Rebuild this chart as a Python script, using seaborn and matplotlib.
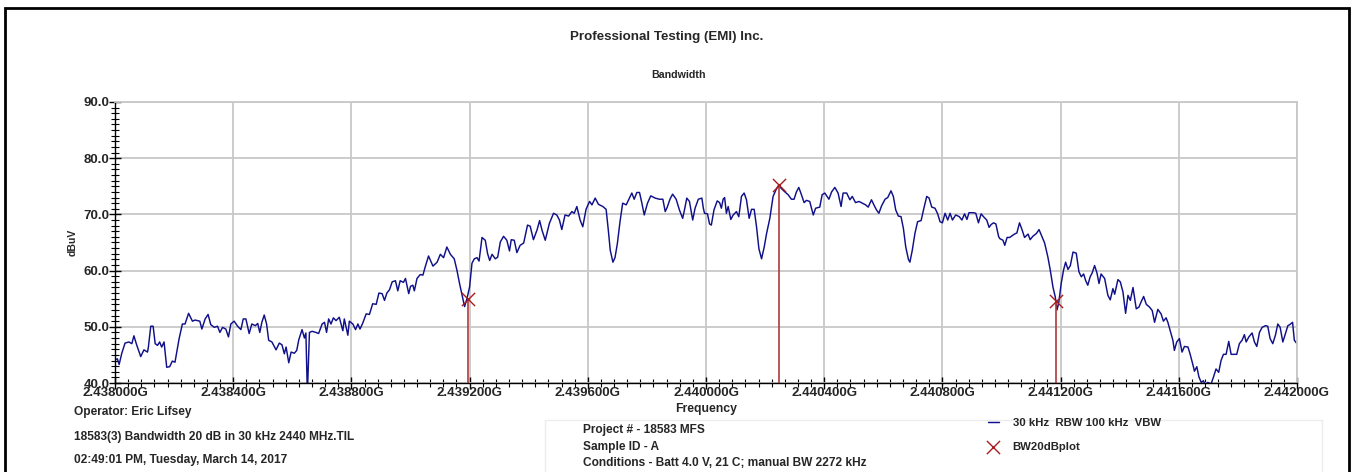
"""
Recreation of the EMI bandwidth plot (20 dB bandwidth, 30 kHz RBW).
"""

import matplotlib
matplotlib.use("Agg")
import matplotlib.pyplot as plt
from matplotlib.patches import Rectangle
from matplotlib.ticker import MultipleLocator, AutoMinorLocator, FuncFormatter
import seaborn as sns
import pandas as pd

# Trace, frequency in MHz, level in dBuV
freq_a = [2438.000, 2438.008, 2438.014, 2438.023, 2438.034, 2438.047, 2438.057, 2438.064, 2438.072, 2438.087,
          2438.098, 2438.110, 2438.113, 2438.121, 2438.129, 2438.136, 2438.144, 2438.151, 2438.158, 2438.166,
          2438.175, 2438.185, 2438.194, 2438.203, 2438.217, 2438.228, 2438.237, 2438.249, 2438.262, 2438.271,
          2438.287, 2438.294, 2438.305, 2438.315, 2438.324, 2438.336, 2438.347, 2438.355, 2438.364, 2438.375,
          2438.384, 2438.392, 2438.403, 2438.415, 2438.426, 2438.434, 2438.443, 2438.454, 2438.463, 2438.475,
          2438.483, 2438.490, 2438.497, 2438.505, 2438.513, 2438.520, 2438.531, 2438.545, 2438.556, 2438.565,
          2438.573, 2438.579, 2438.588, 2438.596, 2438.607, 2438.615, 2438.622, 2438.633, 2438.641, 2438.646,
          2438.651, 2438.658, 2438.667, 2438.680, 2438.689, 2438.701, 2438.709, 2438.716, 2438.723, 2438.731,
          2438.739, 2438.748, 2438.759, 2438.771, 2438.776, 2438.788, 2438.793, 2438.805, 2438.814, 2438.822,
          2438.829, 2438.838, 2438.850, 2438.861, 2438.872, 2438.884, 2438.893, 2438.904, 2438.912, 2438.920,
          2438.929, 2438.938, 2438.949, 2438.957, 2438.965, 2438.976, 2438.983, 2438.994]
level_a = [44.1, 44.3, 43.3, 45.3, 47.1, 47.3, 47.0, 48.4, 47.0, 44.7,
           45.9, 45.5, 46.4, 50.1, 50.1, 47.0, 46.7, 47.3, 46.4, 47.3,
           42.8, 42.9, 43.9, 43.7, 47.9, 50.5, 50.5, 52.4, 51.0, 51.2,
           51.0, 49.6, 51.4, 52.2, 50.4, 49.9, 50.1, 49.0, 49.9, 49.6,
           48.2, 50.5, 51.0, 50.1, 49.5, 51.4, 51.4, 48.8, 50.5, 50.2,
           50.6, 49.0, 50.8, 52.1, 50.5, 47.6, 47.3, 45.9, 47.1, 46.8,
           45.2, 46.4, 43.6, 45.5, 45.3, 45.8, 47.7, 49.5, 48.0, 48.9,
           38.0, 49.0, 49.2, 49.0, 48.8, 50.5, 50.8, 49.0, 51.4, 50.5,
           51.6, 51.1, 51.7, 49.3, 51.4, 48.5, 51.0, 50.5, 49.5, 50.5,
           49.6, 50.6, 52.3, 52.2, 54.1, 54.0, 56.0, 55.9, 54.7, 56.0,
           56.6, 58.0, 58.2, 56.4, 58.2, 57.9, 58.6, 55.9]

freq_b = [2439.000, 2439.008, 2439.013, 2439.022, 2439.033, 2439.042, 2439.050, 2439.061, 2439.076, 2439.090,
          2439.101, 2439.112, 2439.123, 2439.135, 2439.148, 2439.157, 2439.166, 2439.174, 2439.183, 2439.191,
          2439.200, 2439.208, 2439.216, 2439.225, 2439.232, 2439.242, 2439.253, 2439.261, 2439.268, 2439.276,
          2439.287, 2439.295, 2439.304, 2439.315, 2439.326, 2439.335, 2439.341, 2439.351, 2439.360, 2439.371,
          2439.383, 2439.396, 2439.405, 2439.416, 2439.428, 2439.437, 2439.445, 2439.456, 2439.470, 2439.484,
          2439.495, 2439.504, 2439.512, 2439.523, 2439.535, 2439.546, 2439.554, 2439.563, 2439.574, 2439.583,
          2439.594, 2439.606, 2439.614, 2439.625, 2439.636, 2439.651, 2439.662, 2439.670, 2439.676, 2439.685,
          2439.692, 2439.700, 2439.709, 2439.718, 2439.730, 2439.738, 2439.749, 2439.757, 2439.766, 2439.775,
          2439.783, 2439.791, 2439.802, 2439.813, 2439.828, 2439.842, 2439.854, 2439.862, 2439.869, 2439.878,
          2439.887, 2439.899, 2439.910, 2439.921, 2439.926, 2439.935, 2439.944, 2439.955, 2439.963, 2439.974,
          2439.986, 2439.991]
level_b = [57.2, 57.4, 56.4, 58.6, 59.3, 59.2, 60.7, 62.6, 60.8, 61.5,
           62.9, 62.3, 64.2, 62.9, 62.1, 60.1, 57.7, 55.8, 53.6, 55.0,
           57.1, 61.3, 62.1, 62.3, 61.7, 65.9, 65.4, 63.0, 61.8, 62.9,
           62.1, 62.4, 65.1, 66.1, 65.4, 63.5, 65.5, 65.4, 63.2, 64.5,
           64.9, 68.1, 67.9, 65.5, 67.2, 68.9, 67.2, 65.4, 68.4, 70.2,
           69.9, 69.0, 67.3, 69.9, 69.7, 70.5, 70.2, 71.4, 69.0, 67.8,
           70.9, 72.3, 71.7, 72.9, 71.8, 71.4, 70.9, 66.9, 63.6, 61.5,
           62.3, 64.8, 68.7, 72.0, 71.7, 72.6, 73.8, 72.7, 73.9, 73.9,
           72.0, 69.9, 72.0, 73.3, 72.9, 72.7, 72.7, 70.5, 71.3, 72.7,
           73.6, 72.7, 70.8, 69.3, 70.5, 72.9, 72.3, 69.0, 71.1, 72.7,
           72.9, 71.1]

freq_c = [2439.995, 2440.005, 2440.012, 2440.018, 2440.027, 2440.038, 2440.046, 2440.052, 2440.058, 2440.063,
          2440.069, 2440.075, 2440.084, 2440.092, 2440.103, 2440.111, 2440.120, 2440.129, 2440.137, 2440.146,
          2440.154, 2440.163, 2440.171, 2440.179, 2440.188, 2440.197, 2440.205, 2440.216, 2440.227, 2440.238,
          2440.246, 2440.255, 2440.267, 2440.278, 2440.289, 2440.298, 2440.306, 2440.314, 2440.323, 2440.332,
          2440.340, 2440.351, 2440.363, 2440.371, 2440.385, 2440.393, 2440.402, 2440.416, 2440.425, 2440.436,
          2440.447, 2440.457, 2440.464, 2440.476, 2440.487, 2440.495, 2440.506, 2440.518, 2440.529, 2440.540,
          2440.549, 2440.560, 2440.570, 2440.577, 2440.585, 2440.594, 2440.606, 2440.615, 2440.626, 2440.634,
          2440.642, 2440.651, 2440.660, 2440.668, 2440.676, 2440.685, 2440.690, 2440.698, 2440.707, 2440.716,
          2440.728, 2440.736, 2440.747, 2440.755, 2440.764, 2440.775, 2440.784, 2440.792, 2440.800, 2440.809,
          2440.818, 2440.826, 2440.834, 2440.845, 2440.857, 2440.866, 2440.875, 2440.883, 2440.890, 2440.905,
          2440.913, 2440.922, 2440.931, 2440.939, 2440.950, 2440.958, 2440.965, 2440.973, 2440.981, 2440.990]
level_c = [70.2, 70.1, 68.3, 68.1, 70.8, 72.4, 72.1, 71.1, 72.7, 73.0,
           70.2, 71.4, 69.1, 69.9, 70.5, 69.6, 73.2, 73.8, 72.6, 69.3,
           70.9, 70.9, 67.8, 63.9, 62.1, 64.2, 66.6, 69.3, 73.2, 74.5,
           75.2, 74.6, 74.0, 73.5, 72.7, 72.7, 74.0, 74.8, 73.5, 72.1,
           72.5, 72.3, 69.9, 71.1, 71.3, 73.5, 73.8, 72.7, 74.0, 74.8,
           73.8, 71.4, 73.8, 73.8, 72.6, 73.2, 72.1, 72.3, 72.0, 71.7,
           71.3, 72.6, 71.5, 70.8, 70.2, 71.5, 72.7, 73.0, 74.2, 73.2,
           70.8, 69.7, 69.6, 67.5, 64.2, 62.0, 61.5, 63.6, 66.6, 68.7,
           68.9, 70.8, 73.2, 72.9, 71.3, 71.1, 70.1, 68.7, 68.5, 70.2,
           69.0, 70.2, 69.0, 69.9, 69.6, 69.0, 70.1, 69.1, 70.3, 70.3,
           70.2, 68.5, 70.1, 69.6, 69.0, 67.7, 68.2, 68.5, 68.3, 66.1]

freq_d = [2440.994, 2441.005, 2441.011, 2441.019, 2441.028, 2441.033, 2441.044, 2441.052, 2441.061, 2441.070,
          2441.078, 2441.090, 2441.097, 2441.106, 2441.118, 2441.127, 2441.135, 2441.146, 2441.157, 2441.165,
          2441.174, 2441.182, 2441.188, 2441.194, 2441.202, 2441.210, 2441.217, 2441.225, 2441.233, 2441.242,
          2441.253, 2441.262, 2441.270, 2441.278, 2441.285, 2441.292, 2441.300, 2441.307, 2441.315, 2441.323,
          2441.330, 2441.337, 2441.349, 2441.360, 2441.368, 2441.377, 2441.383, 2441.394, 2441.402, 2441.411,
          2441.420, 2441.428, 2441.436, 2441.445, 2441.456, 2441.465, 2441.473, 2441.481, 2441.490, 2441.501,
          2441.510, 2441.518, 2441.529, 2441.540, 2441.548, 2441.557, 2441.563, 2441.571, 2441.580, 2441.585,
          2441.593, 2441.602, 2441.611, 2441.619, 2441.631, 2441.638, 2441.647, 2441.653, 2441.661, 2441.668,
          2441.676, 2441.683, 2441.690, 2441.698, 2441.709, 2441.717, 2441.726, 2441.735, 2441.743, 2441.751,
          2441.760, 2441.769, 2441.777, 2441.788, 2441.796, 2441.805, 2441.814, 2441.822, 2441.828, 2441.837,
          2441.848, 2441.856, 2441.864, 2441.873, 2441.882, 2441.893, 2441.901, 2441.909, 2441.918, 2441.927,
          2441.935, 2441.943, 2441.952, 2441.961, 2441.969, 2441.976, 2441.985, 2441.991, 2442.000]
level_d = [65.7, 65.4, 64.5, 65.9, 65.9, 66.1, 66.5, 66.7, 68.5, 67.2,
           65.9, 66.5, 65.5, 66.1, 66.6, 67.3, 66.3, 64.9, 62.4, 60.1,
           57.1, 55.3, 53.0, 54.4, 57.7, 60.1, 61.5, 60.2, 60.9, 63.3,
           63.1, 59.8, 58.9, 59.4, 58.2, 57.4, 58.9, 59.6, 60.9, 59.6,
           57.7, 59.4, 58.6, 55.6, 54.8, 56.8, 55.8, 58.4, 58.0, 56.2,
           52.4, 55.6, 54.7, 57.0, 53.2, 53.5, 54.5, 55.4, 54.0, 53.5,
           52.9, 50.8, 53.1, 52.3, 51.0, 51.6, 50.8, 49.3, 47.6, 45.8,
           47.3, 47.9, 45.5, 46.5, 46.4, 45.2, 43.4, 42.1, 42.9, 41.1,
           40.1, 40.4, 39.7, 40.1, 39.8, 41.0, 42.5, 41.9, 44.0, 45.1,
           45.1, 47.4, 45.1, 45.1, 45.1, 47.0, 47.6, 48.6, 47.3, 48.2,
           48.9, 47.3, 46.5, 49.0, 49.9, 50.2, 50.1, 47.9, 47.0, 48.5,
           50.5, 49.9, 47.3, 48.8, 50.2, 50.4, 50.8, 47.6, 47.0]

# 20 dB bandwidth markers (low edge, peak, high edge)
marker_freq = [2439.193, 2440.246, 2441.183]
marker_level = [54.9, 75.2, 54.6]

trace_label = "30 kHz  RBW 100 kHz  VBW"
marker_label = "BW20dBplot"

trace = pd.DataFrame({
    "freq": freq_a + freq_b + freq_c + freq_d,
    "level": level_a + level_b + level_c + level_d,
})
markers = pd.DataFrame({"freq": marker_freq, "level": marker_level})

sns.set_style("white")
plt.rcParams["font.family"] = ["Liberation Sans", "DejaVu Sans"]
plt.rcParams["font.weight"] = "bold"

W, H = 1355, 472
fig = plt.figure(figsize=(W / 100, H / 100), dpi=100)
ax = fig.add_axes([115 / W, 1 - 383 / H, (1297 - 115) / W, (383 - 102) / H])

trace_col = "#10108a"
marker_col = "#a81c1c"

sns.lineplot(data=trace, x="freq", y="level", ax=ax, color=trace_col,
             linewidth=1.05, label=trace_label, sort=False)
ax.vlines(markers["freq"], 40, markers["level"], color="#b03a3a",
          linewidth=1.4, alpha=0.85, zorder=3)
sns.scatterplot(data=markers, x="freq", y="level", ax=ax, marker="x",
                s=90, color=marker_col, linewidth=1.0, label=marker_label,
                zorder=4)

ax.set_xlim(2438.0, 2442.0)
ax.set_ylim(40, 90)
ax.xaxis.set_major_locator(MultipleLocator(0.4))
ax.xaxis.set_minor_locator(AutoMinorLocator(9))
ax.yaxis.set_major_locator(MultipleLocator(10))
ax.yaxis.set_minor_locator(AutoMinorLocator(10))
ax.xaxis.set_major_formatter(FuncFormatter(lambda v, p: f"{v / 1000:.6f}G"))
ax.yaxis.set_major_formatter(FuncFormatter(lambda v, p: f"{v:.1f}"))

ax.grid(True, which="major", color="#c8c8c8", linewidth=1.3)
ax.set_axisbelow(True)
for side in ["top", "right"]:
    ax.spines[side].set_color("#c8c8c8")
    ax.spines[side].set_linewidth(1.3)
for side in ["left", "bottom"]:
    ax.spines[side].set_color("black")
    ax.spines[side].set_linewidth(1.0)

ax.tick_params(axis="both", which="both", bottom=True, left=True,
               top=False, right=False)
ax.tick_params(axis="both", which="major", direction="inout", length=8,
               width=1.0, color="black", labelsize=9.5, pad=0)
ax.tick_params(axis="x", which="major", pad=-1)
ax.tick_params(axis="both", which="minor", direction="inout", length=6,
               width=0.8, color="black")
for lbl in ax.get_xticklabels() + ax.get_yticklabels():
    lbl.set_fontweight("bold")

ax.set_xlabel("Frequency", fontsize=8.8, fontweight="bold", labelpad=3)
ax.set_ylabel("dBuV", fontsize=7.5, fontweight="bold", labelpad=4)
ax.legend_.remove()

# Titles
fig.text(667 / W, 1 - 37 / H, "Professional Testing (EMI) Inc.", ha="center",
         va="center", fontsize=9.6, fontweight="bold")
fig.text(679 / W, 1 - 75 / H, "Bandwidth", ha="center", va="center",
         fontsize=7.7, fontweight="bold")

# Footer, left block
foot_left = ["Operator: Eric Lifsey",
             "18583(3) Bandwidth 20 dB in 30 kHz 2440 MHz.TIL",
             "02:49:01 PM, Tuesday, March 14, 2017"]
for txt, yy in zip(foot_left, [412, 437, 460]):
    fig.text(74 / W, 1 - yy / H, txt, ha="left", va="center",
             fontsize=8.6, fontweight="bold")

# Footer, middle block with faint frame
fig.patches.append(Rectangle((545 / W, -0.05), (1322 - 545) / W, 0.05 + (472 - 420) / H,
                             transform=fig.transFigure, fill=False,
                             edgecolor="#ececec", linewidth=1.0))
foot_mid = ["Project # - 18583 MFS",
            "Sample ID - A",
            "Conditions - Batt 4.0 V, 21 C; manual BW 2272 kHz"]
for txt, yy in zip(foot_mid, [430, 447, 463]):
    fig.text(583 / W, 1 - yy / H, txt, ha="left", va="center",
             fontsize=8.6, fontweight="bold")

# Legend
handles, labels = ax.get_legend_handles_labels()
fig.legend(handles, labels, loc="center left",
           bbox_to_anchor=(982 / W, 1 - 435 / H), frameon=False,
           prop={"size": 8.2, "weight": "bold"}, handlelength=1.0,
           handletextpad=1.2, labelspacing=1.2, borderpad=0)

# Outer frame
fig.patches.append(Rectangle((5 / W, -0.05), (1349 - 5) / W, 0.05 + (472 - 8) / H,
                             transform=fig.transFigure, fill=False,
                             edgecolor="black", linewidth=2.0))

fig.savefig("out.png", dpi=100)
